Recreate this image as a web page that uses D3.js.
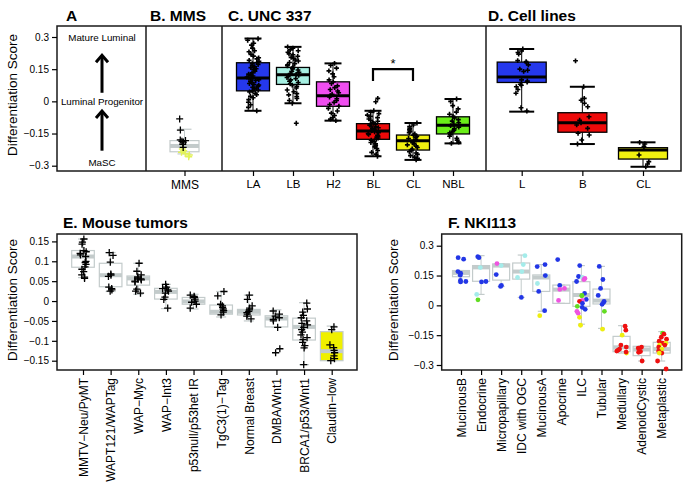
<!DOCTYPE html>
<html><head><meta charset="utf-8">
<script src="https://cdn.jsdelivr.net/npm/d3@7"></script>
<style>body{margin:0;background:#fff} text{font-family:"Liberation Sans",Arial,sans-serif}</style>
</head><body><svg id="c" width="685" height="482"></svg>
<script>
// ---------- DATA ----------
const topTicks = [-0.3, -0.15, 0, 0.15, 0.3];
const topTickLabels = ["\u22120.3", "\u22120.15", "0", "0.15", "0.3"];
const eTicks = [-0.15, -0.1, -0.05, 0, 0.05, 0.1, 0.15];
const eTickLabels = ["\u22120.15", "\u22120.1", "\u22120.05", "0", "0.05", "0.1", "0.15"];

// Panel B (MMS): stats [lo, q1, median, q3, hi]
const bCats = ["MMS"];
const bStats = [[-0.245, -0.235, -0.208, -0.183, -0.13]];
const bBlack = [-0.082, -0.134, -0.18, -0.183, -0.186, -0.19, -0.2, -0.215];
const bYellow = [-0.222, -0.23, -0.237, -0.243, -0.25, -0.258];

// Panel C (UNC 337)
const cCats = ["LA", "LB", "H2", "BL", "CL", "NBL"];
const cColors = ["#2538ec", "#a6f0e2", "#f04ef0", "#ee0a0a", "#f0f010", "#6aee18"];
const cStats = [
  [-0.044, 0.049, 0.109, 0.180, 0.293],
  [-0.009, 0.079, 0.124, 0.158, 0.254],
  [-0.090, -0.023, 0.026, 0.091, 0.177],
  [-0.256, -0.177, -0.138, -0.104, -0.044],
  [-0.273, -0.227, -0.184, -0.157, -0.101],
  [-0.196, -0.152, -0.112, -0.072, 0.011]
];
const cLA = [0.292, 0.285, 0.271, 0.262, 0.248, 0.236, 0.231, 0.219, 0.211, 0.203, 0.198, 0.191, 0.187, 0.181, 0.176, 0.172, 0.168, 0.161, 0.157, 0.152, 0.149, 0.141, 0.133, 0.127, 0.122, 0.118, 0.113, 0.109, 0.106, 0.101, 0.097, 0.093, 0.088, 0.083, 0.079, 0.076, 0.071, 0.066, 0.062, 0.058, 0.053, 0.049, 0.044, 0.038, 0.031, 0.024, 0.017, 0.008, -0.004, -0.016, -0.028, -0.044];
const cLB = [0.254, 0.248, 0.24, 0.236, 0.229, 0.222, 0.217, 0.21, 0.205, 0.2, 0.193, 0.188, 0.181, 0.176, 0.17, 0.166, 0.16, 0.155, 0.151, 0.146, 0.14, 0.135, 0.13, 0.126, 0.121, 0.117, 0.111, 0.106, 0.1, 0.094, 0.088, 0.082, 0.076, 0.07, 0.062, 0.053, 0.045, 0.036, 0.03, 0.022, 0.013, 0.004, -0.009, -0.102];
const cH2 = [0.177, 0.168, 0.155, 0.142, 0.128, 0.115, 0.1, 0.091, 0.083, 0.072, 0.064, 0.055, 0.048, 0.04, 0.033, 0.027, 0.02, 0.012, 0.004, -0.005, -0.015, -0.023, -0.033, -0.045, -0.055, -0.066, -0.075, -0.083, -0.09];
const cBL = [0.014, -0.002, -0.044, -0.05, -0.057, -0.064, -0.07, -0.076, -0.082, -0.088, -0.093, -0.098, -0.103, -0.107, -0.111, -0.115, -0.119, -0.123, -0.127, -0.131, -0.135, -0.138, -0.142, -0.146, -0.15, -0.154, -0.158, -0.162, -0.167, -0.171, -0.176, -0.181, -0.186, -0.192, -0.198, -0.205, -0.212, -0.22, -0.229, -0.238, -0.246, -0.256];
const cCL = [-0.101, -0.11, -0.118, -0.126, -0.133, -0.14, -0.146, -0.152, -0.158, -0.163, -0.168, -0.173, -0.178, -0.183, -0.188, -0.193, -0.198, -0.203, -0.209, -0.215, -0.222, -0.228, -0.235, -0.241, -0.247, -0.253, -0.26, -0.266, -0.273];
const cNBL = [0.011, 0.0, -0.02, -0.035, -0.05, -0.06, -0.07, -0.077, -0.085, -0.092, -0.1, -0.107, -0.113, -0.12, -0.127, -0.134, -0.14, -0.147, -0.155, -0.163, -0.172, -0.181, -0.19, -0.196];
const cPoints = [cLA, cLB, cH2, cBL, cCL, cNBL];

// Panel D (Cell lines)
const dCats = ["L", "B", "CL"];
const dColors = ["#2538ec", "#ee0a0a", "#f0f010"];
const dStats = [
  [-0.048, 0.088, 0.113, 0.183, 0.244],
  [-0.199, -0.144, -0.100, -0.053, 0.068],
  [-0.305, -0.269, -0.227, -0.216, -0.191]
];
const dL = [0.244, 0.235, 0.228, 0.22, 0.19, 0.185, 0.18, 0.17, 0.15, 0.145, 0.14, 0.1, 0.095, 0.09, 0.08, 0.075, 0.068, 0.055, 0.038, -0.03, -0.045];
const dB = [0.189, 0.068, 0.014, 0.005, -0.009, -0.025, -0.072, -0.088, -0.1, -0.11, -0.126, -0.149, -0.157, -0.18, -0.199];
const dCL = [-0.191, -0.199, -0.211, -0.25, -0.281, -0.292, -0.305];
const dPoints = [dL, dB, dCL];

// Panel E (Mouse tumors)
const eCats = ["MMTV\u2212Neu/PyMT", "WAPT121/WAPTag", "WAP\u2212Myc", "WAP\u2212Int3", "p53null/p53het IR", "TgC3(1)\u2212Tag", "Normal Breast", "DMBA/Wnt1", "BRCA1/p53/Wnt1", "Claudin\u2212low"];
const eStats = [
  [0.059, 0.085, 0.112, 0.127, 0.156],
  [0.024, 0.036, 0.065, 0.095, 0.122],
  [0.017, 0.040, 0.057, 0.063, 0.095],
  [-0.019, 0.005, 0.023, 0.032, 0.042],
  [-0.02, -0.008, -0.001, 0.009, 0.017],
  [-0.04, -0.033, -0.027, -0.01, 0.024],
  [-0.05, -0.035, -0.027, -0.021, 0.015],
  [-0.065, -0.065, -0.044, -0.037, -0.022],
  [-0.16, -0.098, -0.065, -0.043, -0.004],
  [-0.15, -0.15, -0.126, -0.077, -0.063]
];
const eFill = ["#fff", "#fff", "#fff", "#fff", "#fff", "#fff", "#fff", "#fff", "#fff", "#f0f000"];
const ePoints = [
  [0.156, 0.148, 0.143, 0.127, 0.124, 0.12, 0.116, 0.112, 0.1, 0.097, 0.092, 0.086, 0.08, 0.074, 0.066, 0.06, 0.057],
  [0.122, 0.115, 0.098, 0.068, 0.065, 0.062, 0.035, 0.031, 0.028, 0.025],
  [0.095, 0.075, 0.066, 0.061, 0.058, 0.056, 0.055, 0.053, 0.05, 0.048, 0.03, 0.025, 0.02],
  [0.042, 0.035, 0.031, 0.028, 0.025, 0.02, 0.01, 0.004, -0.018],
  [0.015, 0.012, 0.009, 0.005, 0.0, -0.003, -0.008, -0.018],
  [0.024, 0.013, -0.008, -0.012, -0.016, -0.02, -0.024, -0.028, -0.035],
  [0.015, 0.004, -0.012, -0.018, -0.022, -0.026, -0.029, -0.033, -0.038, -0.045],
  [-0.025, -0.033, -0.038, -0.042, -0.046, -0.05, -0.066, -0.12, -0.13],
  [-0.005, -0.02, -0.028, -0.036, -0.042, -0.05, -0.056, -0.06, -0.066, -0.072, -0.078, -0.085, -0.092, -0.097, -0.104, -0.112, -0.118, -0.16],
  [-0.065, -0.072, -0.11, -0.117, -0.124, -0.13, -0.138, -0.145, -0.15]
];

// Panel F (NKI113)
const fCats = ["MucinousB", "Endocrine", "Micropapillary", "IDC with OGC", "MucinousA", "Apocrine", "ILC", "Tubular", "Medullary", "AdenoidCystic", "Metaplastic"];
const fStats = [
  [0.117, 0.144, 0.163, 0.175, 0.175],
  [0.055, 0.121, 0.191, 0.2, 0.25],
  [0.095, 0.127, 0.2, 0.208, 0.21],
  [0.04, 0.132, 0.17, 0.213, 0.253],
  [-0.03, 0.07, 0.14, 0.153, 0.205],
  [0.01, 0.01, 0.079, 0.102, 0.102],
  [-0.095, -0.005, 0.052, 0.119, 0.2],
  [-0.116, 0.007, 0.024, 0.082, 0.196],
  [-0.24, -0.233, -0.211, -0.156, -0.102],
  [-0.28, -0.253, -0.222, -0.206, -0.206],
  [-0.28, -0.24, -0.22, -0.186, -0.132]
];
const subtypeColors = {b: "#2236e6", c: "#a4ecea", p: "#ee55e0", g: "#62dc22", r: "#ee1010", y: "#eeee10"};
const fPoints = [
  [[0.24,"b"],[0.232,"b"],[0.17,"b"],[0.162,"b"],[0.152,"b"],[0.125,"b"],[0.118,"b"],[0.12,"b"]],
  [[0.245,"b"],[0.24,"b"],[0.19,"c"],[0.12,"b"],[0.118,"b"],[0.055,"c"],[0.028,"g"]],
  [[0.21,"p"],[0.2,"c"],[0.155,"b"],[0.1,"b"],[0.095,"b"]],
  [[0.25,"c"],[0.205,"c"],[0.17,"c"],[0.14,"c"],[0.04,"b"]],
  [[0.205,"b"],[0.195,"b"],[0.15,"c"],[0.15,"b"],[0.11,"c"],[0.07,"b"],[-0.027,"b"],[-0.052,"y"]],
  [[0.23,"b"],[0.1,"b"],[0.085,"p"],[0.08,"p"],[0.025,"p"]],
  [[0.2,"b"],[0.145,"b"],[0.14,"c"],[0.135,"p"],[0.12,"b"],[0.13,"p"],[0.06,"b"],[0.05,"g"],[0.048,"g"],[0.03,"b"],[0.025,"p"],[0.02,"r"],[0.01,"b"],[-0.005,"g"],[-0.01,"b"],[-0.02,"b"],[-0.03,"p"],[-0.04,"p"],[-0.06,"y"],[-0.1,"y"]],
  [[0.196,"b"],[0.13,"b"],[0.085,"b"],[0.05,"b"],[0.02,"b"],[0.015,"b"],[0.005,"b"],[-0.03,"g"],[-0.12,"y"]],
  [[-0.105,"r"],[-0.125,"r"],[-0.15,"y"],[-0.2,"r"],[-0.21,"r"],[-0.22,"r"],[-0.225,"r"],[-0.23,"r"],[-0.24,"y"],[-0.235,"r"]],
  [[-0.21,"r"],[-0.215,"r"],[-0.232,"r"],[-0.236,"r"],[-0.28,"r"]],
  [[-0.14,"g"],[-0.145,"r"],[-0.16,"r"],[-0.17,"r"],[-0.18,"r"],[-0.19,"r"],[-0.19,"y"],[-0.2,"y"],[-0.2,"r"],[-0.21,"r"],[-0.22,"y"],[-0.23,"r"],[-0.24,"r"],[-0.24,"y"],[-0.28,"r"],[-0.32,"r"]]
];

// Panel A labels
const aLabels = ["Mature Luminal", "Luminal Progenitor", "MaSC"];
const aLabelValues = [0.3, 0, -0.285];

// ---------- DRAWING ----------
const svg = d3.select("#c");
const FRAME = "#1a1a1a";
const LIGHT = "#c3cbcb";
// deterministic horizontal jitter in [-1, 1] (hash of index)
const jit = i => { const s = Math.sin((i + 1) * 12.9898) * 43758.5453; return (s - Math.floor(s)) * 2 - 1; };

// scales
const yTop = d3.scaleLinear().domain([-0.3, 0.3]).range([165.7, 37]);
const yE = d3.scaleLinear().domain([-0.15, 0.15]).range([360.7, 241.4]);
const yF = d3.scaleLinear().domain([-0.3, 0.3]).range([365, 245.7]);
const xB = d3.scalePoint().domain(bCats).range([184.5, 184.5]);
const xC = d3.scalePoint().domain(cCats).range([253, 453]);
const xD = d3.scalePoint().domain(dCats).range([521.7, 643]);
const xE = d3.scalePoint().domain(eCats).range([83, 331.7]);
const xF = d3.scalePoint().domain(fCats).range([461, 661.7]);

function styleAxis(g, fs) {
  g.select(".domain").remove();
  g.selectAll(".tick line").attr("stroke", "#000").attr("stroke-width", 1.2);
  g.selectAll(".tick text").attr("font-size", fs).attr("fill", "#000")
    .attr("font-family", "'Liberation Sans', Arial, sans-serif");
}

function yAxis(x, scale, ticks, labels) {
  const g = svg.append("g").attr("transform", `translate(${x},0)`)
    .call(d3.axisLeft(scale).tickValues(ticks).tickSize(5).tickPadding(3)
      .tickFormat((d, i) => labels[i]));
  styleAxis(g, 10);
}

function xAxis(y, scale, fs, rotate) {
  const g = svg.append("g").attr("transform", `translate(0,${y})`)
    .call(d3.axisBottom(scale).tickSize(5).tickPadding(4));
  styleAxis(g, fs);
  if (rotate) {
    g.selectAll(".tick text").attr("text-anchor", "end")
      .attr("transform", "rotate(-90)").attr("x", -8).attr("y", 0).attr("dy", "0.35em");
  }
}

function boxes(xs, ys, cats, stats, o) {
  const g = svg.append("g");
  cats.forEach((c, i) => {
    const [lo, q1, med, q3, hi] = stats[i];
    const cx = xs(c), w = o.w;
    g.append("line").attr("x1", cx).attr("x2", cx).attr("y1", ys(hi)).attr("y2", ys(q3))
      .attr("stroke", o.wStroke).attr("stroke-width", 1);
    g.append("line").attr("x1", cx).attr("x2", cx).attr("y1", ys(q1)).attr("y2", ys(lo))
      .attr("stroke", o.wStroke).attr("stroke-width", 1);
    [lo, hi].forEach(v => g.append("line").attr("x1", cx - o.cap / 2).attr("x2", cx + o.cap / 2)
      .attr("y1", ys(v)).attr("y2", ys(v)).attr("stroke", o.wStroke).attr("stroke-width", o.capW));
    g.append("rect").attr("x", cx - w / 2).attr("width", w)
      .attr("y", ys(q3)).attr("height", Math.max(0.5, ys(q1) - ys(q3)))
      .attr("fill", o.fill[i]).attr("stroke", o.stroke).attr("stroke-width", o.sw);
    g.append("line").attr("x1", cx - w / 2).attr("x2", cx + w / 2)
      .attr("y1", ys(med)).attr("y2", ys(med)).attr("stroke", o.medColor).attr("stroke-width", o.medW);
  });
}

function crosses(xs, ys, cat, vals, o, seed) {
  const g = svg.append("g");
  vals.forEach((v, i) => {
    const cx = xs(cat) + jit(i + seed * 31) * o.jit, cy = ys(v);
    g.append("path").attr("d", `M${cx - o.r},${cy}H${cx + o.r}M${cx},${cy - o.r}V${cy + o.r}`)
      .attr("stroke", o.color).attr("stroke-width", o.sw).attr("fill", "none");
  });
}

// ---- Top row frame ----
svg.append("rect").attr("x", 57).attr("y", 26).attr("width", 624).attr("height", 145)
  .attr("fill", "none").attr("stroke", FRAME).attr("stroke-width", 1.5);
[146, 222, 486].forEach(x => svg.append("line").attr("x1", x).attr("x2", x).attr("y1", 26).attr("y2", 171)
  .attr("stroke", FRAME).attr("stroke-width", 1.5));
yAxis(57, yTop, topTicks, topTickLabels);

// titles
const titles = [["A", 66, 21], ["B. MMS", 150, 21], ["C. UNC 337", 228, 21], ["D. Cell lines", 488, 21],
  ["E. Mouse tumors", 63, 228], ["F. NKI113", 448, 228]];
titles.forEach(t => svg.append("text").attr("x", t[1]).attr("y", t[2]).text(t[0])
  .attr("font-size", 15.5).attr("font-weight", "bold").attr("fill", "#000"));

// y labels
[[12, 95], [12, 300], [393, 300]].forEach(p => svg.append("text")
  .attr("transform", `translate(${p[0] + 5},${p[1]}) rotate(-90)`).attr("text-anchor", "middle")
  .attr("font-size", 13.5).text("Differentiation Score"));

// ---- Panel A ----
const ax = 102;
aLabels.forEach((t, i) => svg.append("text").attr("x", ax).attr("y", yTop(aLabelValues[i]) + 3.5)
  .attr("text-anchor", "middle").attr("font-size", 9.8).text(t));
function arrow(vFrom, vTo) {
  const y1 = yTop(vFrom), y2 = yTop(vTo);
  svg.append("line").attr("x1", ax).attr("x2", ax).attr("y1", y1).attr("y2", y2 + 1)
    .attr("stroke", "#000").attr("stroke-width", 3);
  svg.append("path").attr("d", `M${ax - 6},${y2 + 7}L${ax},${y2}L${ax + 6},${y2 + 7}`)
    .attr("stroke", "#000").attr("stroke-width", 3).attr("fill", "none").attr("stroke-linejoin", "miter");
}
arrow(0.04, 0.215);
arrow(-0.23, -0.045);

// ---- Panel B ----
boxes(xB, yTop, bCats, bStats, {w: 29, cap: 14, capW: 1.2, wStroke: LIGHT, stroke: LIGHT, sw: 1.2,
  fill: ["#fff"], medColor: LIGHT, medW: 4});
crosses(xB, yTop, "MMS", bYellow, {jit: 5, r: 3.5, sw: 1.4, color: "#e2f25a"}, 1);
crosses(xB, yTop, "MMS", bBlack, {jit: 5, r: 3.5, sw: 1.3, color: "#000"}, 2);
xAxis(171, xB, 12, false);

// ---- Panel C ----
boxes(xC, yTop, cCats, cStats, {w: 33, cap: 17, capW: 2, wStroke: "#000", stroke: "#000", sw: 1.3,
  fill: cColors, medColor: "#000", medW: 3});
const sym = d3.symbol().type(d3.symbolCross).size(13);
cCats.forEach((c, ci) => {
  svg.append("g").selectAll("path").data(cPoints[ci]).join("path")
    .attr("d", sym).attr("fill", "#000")
    .attr("transform", (v, i) => `translate(${xC(c) + jit(i + ci * 97) * 6},${yTop(v)})`);
});
// significance bracket between BL and CL
const brY = yTop(0.15), brY2 = yTop(0.095);
svg.append("path").attr("d", `M${xC("BL")},${brY2}V${brY}H${xC("CL")}V${brY2}`)
  .attr("fill", "none").attr("stroke", "#000").attr("stroke-width", 2.2);
svg.append("text").attr("x", (xC("BL") + xC("CL")) / 2).attr("y", brY - 1).attr("text-anchor", "middle")
  .attr("font-size", 13).text("*");
xAxis(171, xC, 11.5, false);

// ---- Panel D ----
boxes(xD, yTop, dCats, dStats, {w: 49, cap: 25, capW: 2, wStroke: "#000", stroke: "#000", sw: 1.3,
  fill: dColors, medColor: "#000", medW: 3});
dCats.forEach((c, ci) => {
  svg.append("g").selectAll("path").data(dPoints[ci]).join("path")
    .attr("d", sym).attr("fill", "#000")
    .attr("transform", (v, i) => `translate(${xD(c) + jit(i + ci * 53 + 500) * 7},${yTop(v)})`);
});
xAxis(171, xD, 11.5, false);

// ---- Panel E ----
svg.append("rect").attr("x", 57).attr("y", 234).attr("width", 300).attr("height", 136)
  .attr("fill", "none").attr("stroke", FRAME).attr("stroke-width", 1.5);
yAxis(57, yE, eTicks, eTickLabels);
boxes(xE, yE, eCats, eStats, {w: 22.6, cap: 10, capW: 1.2, wStroke: LIGHT, stroke: LIGHT, sw: 1.2,
  fill: eFill, medColor: LIGHT, medW: 4});
eCats.forEach((c, ci) => crosses(xE, yE, c, ePoints[ci], {jit: 3.5, r: 3.6, sw: 1.3, color: "#000"}, ci + 10));
xAxis(370, xE, 12, true);

// ---- Panel F ----
svg.append("rect").attr("x", 441.7).attr("y", 234).attr("width", 240).attr("height", 136)
  .attr("fill", "none").attr("stroke", FRAME).attr("stroke-width", 1.5);
yAxis(441.7, yF, topTicks, topTickLabels);
boxes(xF, yF, fCats, fStats, {w: 17, cap: 7, capW: 1.2, wStroke: LIGHT, stroke: LIGHT, sw: 1.2,
  fill: fCats.map(() => "none"), medColor: LIGHT, medW: 4});
fCats.forEach((c, ci) => {
  svg.append("g").selectAll("circle").data(fPoints[ci]).join("circle")
    .attr("cx", (d, i) => xF(c) + jit(i + ci * 71 + 900) * 5).attr("cy", d => yF(d[0]))
    .attr("r", 2.4).attr("fill", d => subtypeColors[d[1]]);
});
xAxis(370, xF, 12, true);
</script></body></html>
